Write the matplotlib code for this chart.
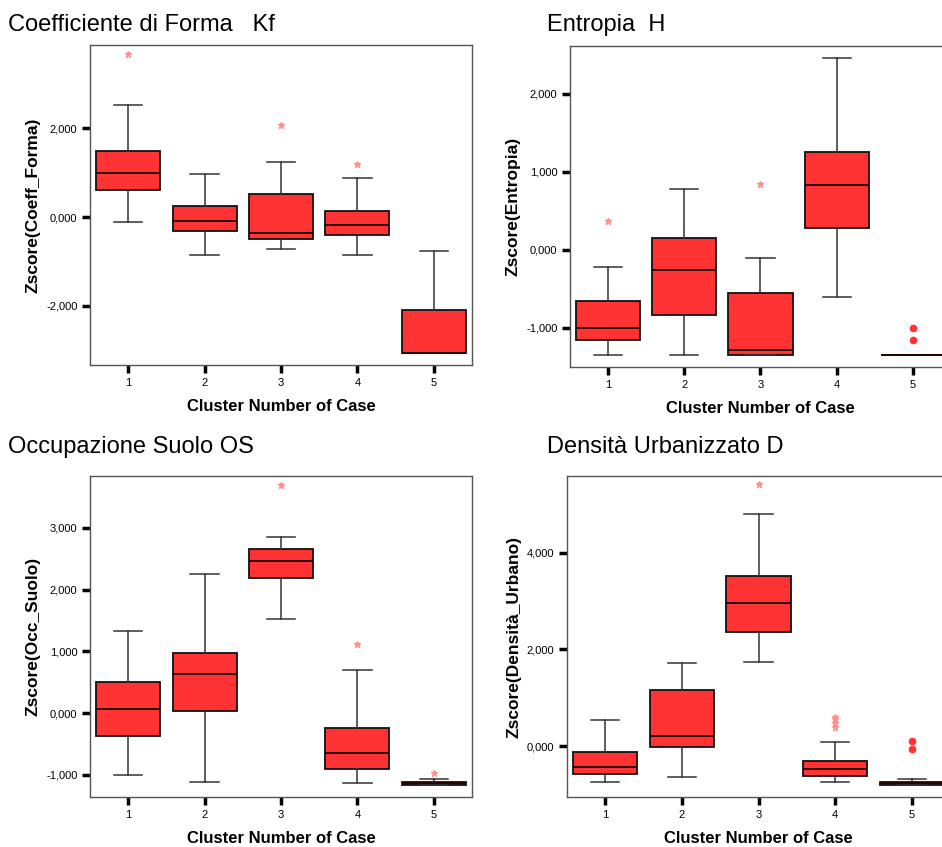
import numpy as np
import matplotlib
matplotlib.use('Agg')
import matplotlib.pyplot as plt
from matplotlib.ticker import FuncFormatter

plt.rcParams['font.family'] = ['Liberation Sans', 'DejaVu Sans']

clusters = [1, 2, 3, 4, 5]

# Coefficiente di Forma Kf
kf_whislo = [-0.11, -0.86, -0.71, -0.86, -3.05]
kf_q1 = [0.62, -0.30, -0.48, -0.41, -3.05]
kf_med = [0.99, -0.08, -0.36, -0.18, -3.05]
kf_q3 = [1.49, 0.25, 0.52, 0.14, -2.09]
kf_whishi = [2.52, 0.97, 1.25, 0.88, -0.77]
kf_stars = [[3.68], [], [2.08], [1.20], []]
kf_dots = [[], [], [], [], []]

# Entropia H
h_whislo = [-1.34, -1.34, -1.34, -0.61, -1.34]
h_q1 = [-1.16, -0.84, -1.34, 0.28, -1.34]
h_med = [-1.00, -0.26, -1.28, 0.83, -1.34]
h_q3 = [-0.66, 0.15, -0.55, 1.25, -1.34]
h_whishi = [-0.22, 0.78, -0.10, 2.45, -1.34]
h_stars = [[0.375], [], [0.84], [], []]
h_dots = [[], [], [], [], [-1.00, -1.15]]

# Occupazione Suolo OS
os_whislo = [-1.01, -1.12, 1.53, -1.14, -1.16]
os_q1 = [-0.37, 0.04, 2.19, -0.91, -1.16]
os_med = [0.07, 0.63, 2.47, -0.65, -1.14]
os_q3 = [0.50, 0.98, 2.66, -0.24, -1.12]
os_whishi = [1.33, 2.25, 2.85, 0.70, -1.07]
os_stars = [[], [], [3.69], [1.12], [-0.97]]
os_dots = [[], [], [], [], []]

# Densita Urbanizzato D
d_whislo = [-0.75, -0.64, 1.74, -0.75, -0.80]
d_q1 = [-0.57, -0.03, 2.37, -0.61, -0.80]
d_med = [-0.43, 0.21, 2.96, -0.48, -0.77]
d_q3 = [-0.13, 1.17, 3.51, -0.32, -0.75]
d_whishi = [0.54, 1.72, 4.81, 0.08, -0.68]
d_stars = [[], [], [5.43], [0.61, 0.55, 0.48, 0.40], []]
d_dots = [[], [], [], [], [0.11, -0.06]]

panels = [
    ('Coefficiente di Forma   Kf', 'Zscore(Coeff_Forma)',
     kf_whislo, kf_q1, kf_med, kf_q3, kf_whishi, kf_stars, kf_dots,
     (-3.33, 3.88), [-2, 0, 2]),
    ('Entropia  H', 'Zscore(Entropia)',
     h_whislo, h_q1, h_med, h_q3, h_whishi, h_stars, h_dots,
     (-1.50, 2.61), [-1, 0, 1, 2]),
    ('Occupazione Suolo OS', 'Zscore(Occ_Suolo)',
     os_whislo, os_q1, os_med, os_q3, os_whishi, os_stars, os_dots,
     (-1.36, 3.84), [-1, 0, 1, 2, 3]),
    ('Densità Urbanizzato D', 'Zscore(Densità_Urbano)',
     d_whislo, d_q1, d_med, d_q3, d_whishi, d_stars, d_dots,
     (-1.055, 5.59), [0, 2, 4]),
]

W, H = 942, 847
# axes boxes in pixels: left, top, right, bottom
boxes_px = [(90, 45, 472, 365), (570, 46, 951, 367),
            (90, 476, 472, 797), (567, 476, 950, 797)]
title_px = [(8, 25), (547, 25), (8, 447), (547, 447)]

fig = plt.figure(figsize=(W / 100, H / 100), dpi=100)
fmt = FuncFormatter(lambda v, p: f'{v:.3f}'.replace('.', ','))

for (title, ylab, wlo, q1, med, q3, whi, stars, dots, ylim, yt), bp, tp in zip(
        panels, boxes_px, title_px):
    l, t, r, b = bp
    ax = fig.add_axes([l / W, 1 - b / H, (r - l) / W, (b - t) / H])
    stats = []
    for i in range(len(clusters)):
        stats.append(dict(whislo=wlo[i], q1=q1[i], med=med[i], q3=q3[i],
                          whishi=whi[i], fliers=stars[i]))
    ax.bxp(stats, positions=clusters, widths=0.84, capwidths=0.37,
           patch_artist=True, showfliers=True,
           boxprops=dict(facecolor='#ff3333', edgecolor='#111111', linewidth=1.3),
           medianprops=dict(color='#2a0000', linewidth=1.4),
           whiskerprops=dict(color='#333333', linewidth=1.1),
           capprops=dict(color='#333333', linewidth=1.1),
           flierprops=dict(marker='*', markersize=5, markerfacecolor='#ff9090',
                           markeredgecolor='#ff9090', linestyle='none'))
    for i, c in enumerate(clusters):
        if dots[i]:
            ax.plot([c] * len(dots[i]), dots[i], 'o', color='#ff3333',
                    markersize=4.5, linestyle='none')
    ax.set_xlim(0.5, 5.5)
    ax.set_ylim(*ylim)
    ax.set_yticks(yt)
    ax.yaxis.set_major_formatter(fmt)
    ax.set_xticks(clusters)
    ax.set_xticklabels([str(c) for c in clusters])
    ax.tick_params(axis='both', direction='out', length=6, width=2.5,
                   color='black', labelsize=8, pad=3)
    for s in ax.spines.values():
        s.set_color('#555555')
        s.set_linewidth(1.0)
    ax.set_ylabel(ylab, fontsize=12.5, fontweight='bold', labelpad=4)
    ax.set_xlabel('Cluster Number of Case', fontsize=12, fontweight='bold',
                  labelpad=8)
    fig.text(tp[0] / W, 1 - tp[1] / H, title, fontsize=17, ha='left',
             va='center')

fig.savefig('out.png', dpi=100, facecolor='white')
